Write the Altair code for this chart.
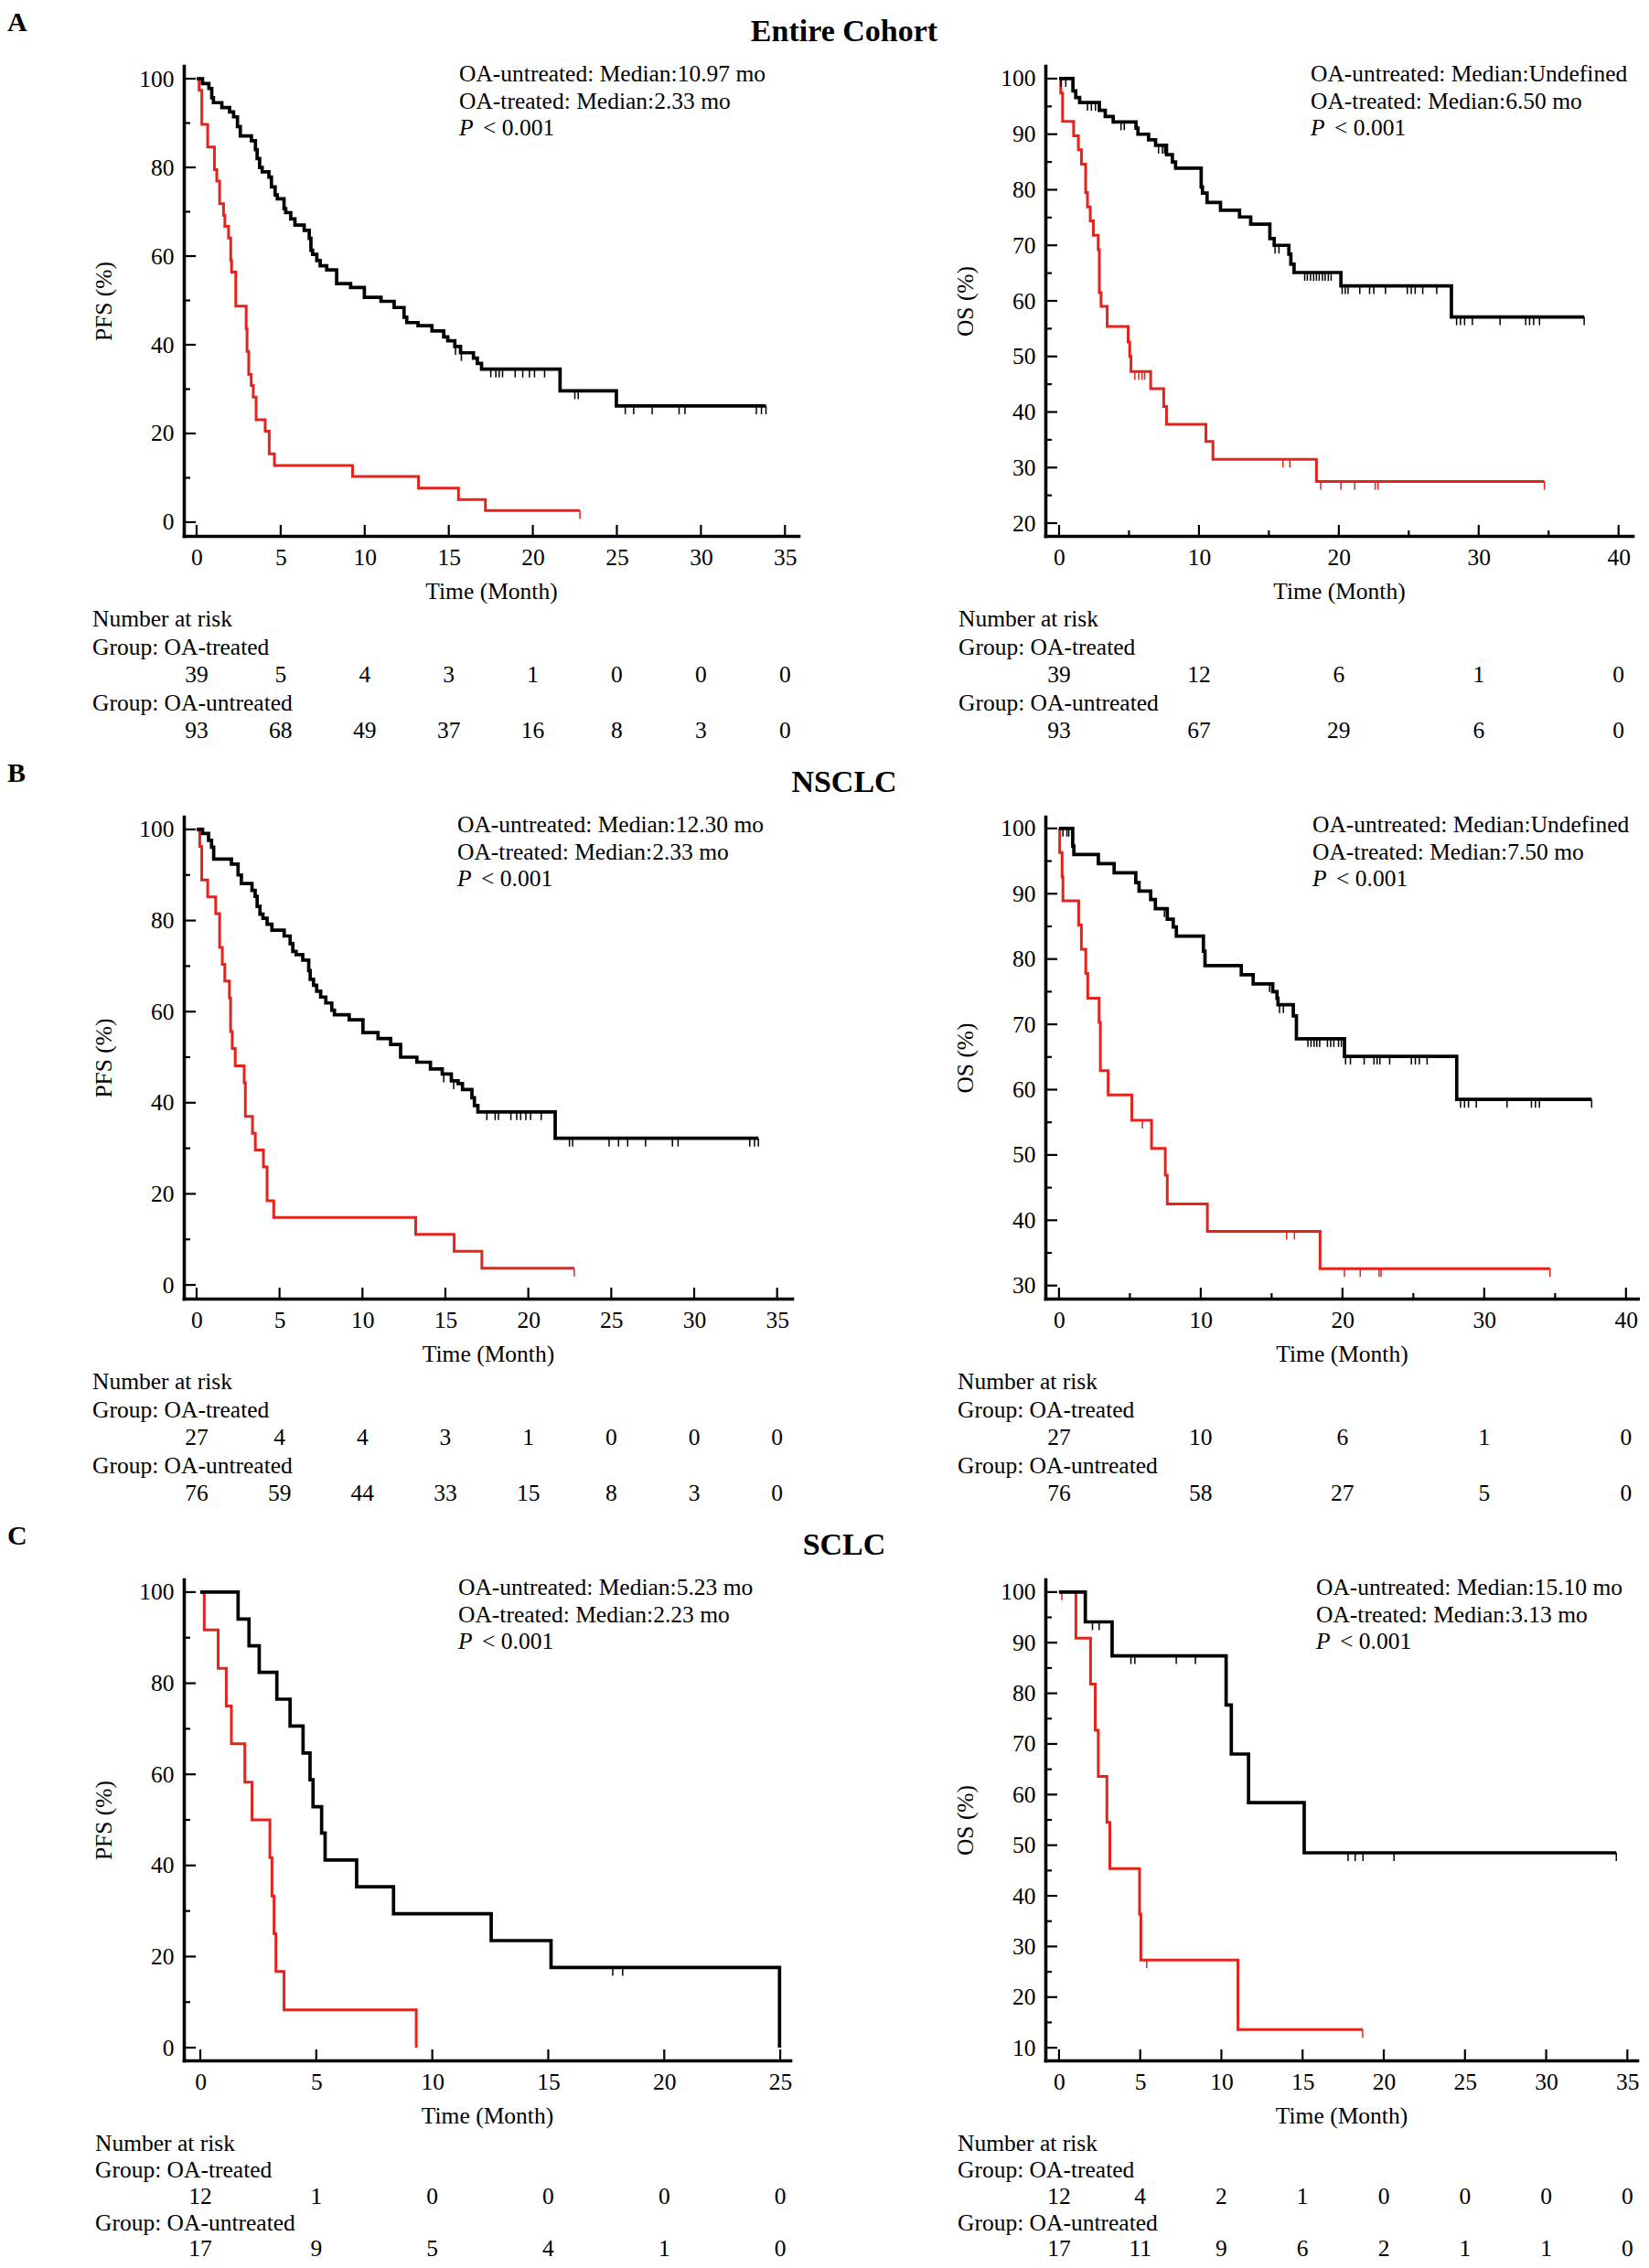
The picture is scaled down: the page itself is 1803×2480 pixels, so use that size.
import altair as alt
import pandas as pd

FONT = "Liberation Serif"
INK = "#000000"
RED = "#e3231c"

# ------------------------------------------------------------------
# Data: (time of drop in months, survival % after drop)
# ------------------------------------------------------------------
# A: Entire cohort - PFS
A_PFS_UNTREATED = [(0.35, 98.9), (0.73, 97.8), (0.9, 95.7), (1.0, 94.6), (1.5, 93.5), (1.96, 92.5),
                   (2.2, 91.4), (2.43, 89.2), (2.6, 87.1), (3.26, 86.0), (3.5, 84.0), (3.6, 82.0),
                   (3.75, 80.0), (3.9, 79.0), (4.3, 77.8), (4.45, 75.6), (4.67, 73.8), (4.8, 72.9),
                   (5.2, 70.7), (5.3, 69.8), (5.6, 68.4), (5.85, 67.0), (6.4, 65.8), (6.7, 64.0),
                   (6.8, 61.3), (6.9, 60.4), (7.15, 59.0), (7.35, 57.8), (7.74, 56.9), (8.33, 53.8),
                   (9.16, 52.9), (9.98, 50.7), (10.97, 49.8), (11.75, 48.4), (12.34, 46.2), (12.5, 45.0),
                   (13.17, 44.3), (14.0, 43.1), (14.7, 41.8), (14.94, 40.9), (15.36, 39.6), (15.7, 38.2),
                   (16.47, 37.0), (16.7, 35.8), (16.95, 34.5), (21.62, 29.6), (24.97, 26.2)]
A_PFS_UNTREATED_END = 33.87
A_PFS_UNTREATED_CENSOR = [15.4, 15.75, 17.5, 17.8, 18.0, 18.2, 18.95, 19.4, 19.8, 20.1, 20.7, 22.5, 22.7,
                          25.5, 26.0, 27.1, 28.7, 29.05, 33.3, 33.6, 33.87]
A_PFS_TREATED = [(0.15, 97.4), (0.31, 89.7), (0.66, 84.6), (1.06, 79.5), (1.2, 76.9), (1.37, 71.8),
                 (1.6, 69.2), (1.68, 66.7), (1.9, 64.1), (2.03, 59.0), (2.08, 56.4), (2.33, 48.7),
                 (2.95, 43.6), (3.0, 38.5), (3.1, 33.3), (3.25, 30.8), (3.37, 28.2), (3.54, 23.1),
                 (4.08, 20.5), (4.32, 15.4), (4.63, 12.8), (9.28, 10.3), (13.2, 7.7), (15.58, 5.1),
                 (17.18, 2.6)]
A_PFS_TREATED_END = 22.8
A_PFS_TREATED_CENSOR = [22.8]

# A: Entire cohort - OS
A_OS_UNTREATED = [(0.99, 97.8), (1.19, 96.6), (1.47, 95.7), (2.88, 94.3), (3.3, 93.2), (3.87, 92.2),
                  (5.5, 91.1), (5.64, 90.0), (6.4, 89.0), (6.9, 88.0), (7.68, 86.3), (8.1, 85.0),
                  (8.33, 83.9), (10.16, 80.5), (10.25, 79.4), (10.58, 77.7), (11.54, 76.3), (12.9, 75.1),
                  (13.7, 73.8), (15.07, 71.2), (15.38, 70.0), (16.43, 68.4), (16.57, 66.6), (16.8, 65.1),
                  (20.15, 62.7), (28.05, 57.1)]
A_OS_UNTREATED_END = 37.54
A_OS_UNTREATED_CENSOR = [0.14, 0.48, 2.03, 2.31, 2.6, 4.43, 4.66, 7.11, 7.39, 7.54, 15.44, 15.72,
                         17.56, 17.75, 17.98, 18.2, 18.4, 18.6, 18.83, 19.02, 19.25, 19.45,
                         20.24, 20.46, 20.66, 21.5, 22.2, 22.5, 23.34, 24.9, 25.18, 25.46, 26.0, 27.0,
                         28.42, 28.7, 28.99, 29.55, 31.53, 33.36, 33.64, 33.93, 34.35, 37.54]
A_OS_TREATED = [(0.12, 97.4), (0.25, 92.3), (1.04, 89.7), (1.38, 87.2), (1.6, 84.6), (1.9, 79.5),
                (2.03, 76.9), (2.23, 74.4), (2.45, 71.8), (2.8, 69.2), (2.88, 61.5), (3.0, 59.0),
                (3.44, 55.4), (4.94, 52.6), (5.05, 50.0), (5.14, 47.3), (6.55, 44.2), (7.48, 41.0),
                (7.68, 37.8), (10.5, 34.7), (11.0, 31.5), (18.4, 27.5)]
A_OS_TREATED_END = 34.7
A_OS_TREATED_CENSOR = [5.42, 5.7, 5.93, 6.12, 16.0, 16.5, 18.7, 20.15, 21.14, 22.6, 22.8, 34.7]

# B: NSCLC - PFS
B_PFS_UNTREATED = [(0.36, 99.1), (0.72, 97.6), (0.9, 96.1), (1.03, 93.5), (2.1, 92.4), (2.5, 90.0),
                   (2.7, 88.1), (3.34, 86.6), (3.53, 85.3), (3.65, 83.1), (3.82, 81.4), (4.0, 80.5),
                   (4.25, 79.2), (4.54, 77.9), (5.28, 76.6), (5.64, 74.9), (5.8, 73.2), (6.0, 72.5),
                   (6.4, 71.3), (6.76, 69.0), (6.85, 67.1), (7.05, 65.8), (7.24, 64.5), (7.48, 63.2),
                   (7.79, 61.9), (8.15, 60.3), (8.31, 59.3), (9.2, 58.2), (10.03, 55.4), (10.94, 54.1),
                   (11.7, 52.8), (12.3, 50.0), (13.28, 48.9), (14.1, 47.4), (14.81, 46.3), (15.36, 44.8),
                   (15.77, 44.2), (16.03, 42.9), (16.6, 41.1), (16.75, 39.4), (16.96, 38.0), (21.62, 32.2)]
B_PFS_UNTREATED_END = 33.87
B_PFS_UNTREATED_CENSOR = [14.9, 15.5, 17.5, 18.0, 18.2, 18.95, 19.3, 19.54, 19.85, 20.14, 20.78,
                          22.48, 22.67, 24.87, 25.44, 25.99, 27.07, 28.69, 29.03, 33.35, 33.64, 33.87]
B_PFS_TREATED = [(0.19, 96.3), (0.31, 88.9), (0.67, 85.2), (1.15, 81.5), (1.39, 74.1), (1.55, 70.4),
                 (1.7, 66.7), (1.98, 63.0), (2.05, 55.6), (2.15, 51.9), (2.33, 48.1), (2.87, 44.4),
                 (2.94, 37.0), (3.37, 33.3), (3.54, 29.6), (4.03, 25.9), (4.25, 18.5), (4.65, 14.8),
                 (13.21, 11.1), (15.53, 7.4), (17.2, 3.7)]
B_PFS_TREATED_END = 22.77
B_PFS_TREATED_CENSOR = [22.77]

# B: NSCLC - OS
B_OS_UNTREATED = [(0.97, 97.3), (1.05, 96.0), (2.78, 94.6), (3.89, 93.2), (5.42, 91.7), (5.65, 90.4),
                  (6.47, 89.1), (6.8, 87.7), (7.64, 86.1), (8.06, 84.9), (8.28, 83.5), (10.19, 81.2),
                  (10.3, 79.0), (12.86, 77.6), (13.7, 76.2), (15.08, 75.0), (15.38, 74.0), (15.45, 73.0),
                  (16.53, 71.3), (16.75, 67.8), (20.14, 65.1), (28.06, 58.5)]
B_OS_UNTREATED_END = 37.58
B_OS_UNTREATED_CENSOR = [0.28, 0.56, 0.69, 2.72, 7.44, 14.86, 15.56, 15.83, 17.56, 17.78, 18.0, 18.19,
                         18.39, 18.94, 19.17, 19.39, 19.72, 19.92, 20.22, 20.56, 21.53, 22.22, 22.44,
                         22.64, 23.33, 24.86, 25.14, 25.42, 25.97, 28.33, 28.61, 28.89, 29.44, 31.61,
                         33.33, 33.61, 33.89, 37.58]
B_OS_TREATED = [(0.05, 96.3), (0.22, 92.6), (0.28, 88.9), (1.39, 85.2), (1.58, 81.5), (1.89, 77.8),
                (2.03, 74.0), (2.83, 70.3), (2.92, 62.9), (3.47, 59.2), (5.14, 55.3), (6.53, 51.0),
                (7.5, 46.9), (7.64, 42.5), (10.47, 38.3), (18.42, 32.6)]
B_OS_TREATED_END = 34.64
B_OS_TREATED_CENSOR = [5.89, 16.06, 16.61, 20.14, 21.25, 22.58, 22.72, 34.64]

# C: SCLC - PFS
C_PFS_UNTREATED = [(1.63, 94.1), (2.1, 88.2), (2.54, 82.4), (3.3, 76.5), (3.87, 70.6), (4.43, 64.7),
                   (4.73, 58.8), (4.86, 52.9), (5.23, 47.1), (5.38, 41.2), (6.74, 35.3), (8.33, 29.4),
                   (12.54, 23.5), (15.12, 17.6), (24.97, 0.0)]
C_PFS_UNTREATED_END = 24.97
C_PFS_UNTREATED_CENSOR = [17.78, 18.21]
C_PFS_TREATED = [(0.17, 91.7), (0.77, 83.3), (1.12, 75.0), (1.34, 66.7), (1.92, 58.3), (2.23, 50.0),
                 (3.0, 41.7), (3.09, 33.3), (3.18, 25.0), (3.26, 16.7), (3.61, 8.3), (9.31, 0.0)]
C_PFS_TREATED_END = 9.31
C_PFS_TREATED_CENSOR = []

# C: SCLC - OS
C_OS_UNTREATED = [(1.62, 94.1), (3.27, 87.4), (10.29, 77.7), (10.61, 68.0), (11.67, 58.4), (15.1, 48.5)]
C_OS_UNTREATED_END = 34.32
C_OS_UNTREATED_CENSOR = [2.06, 2.47, 4.43, 4.67, 7.22, 8.4, 17.8, 18.24, 18.72, 20.63, 34.32]
C_OS_TREATED = [(1.04, 90.9), (1.94, 81.8), (2.23, 72.7), (2.42, 63.6), (2.95, 54.5), (3.13, 45.4),
                (4.96, 36.4), (5.04, 27.3), (11.02, 13.6)]
C_OS_TREATED_END = 18.7
C_OS_TREATED_CENSOR = [0.17, 5.4, 18.7]

# Number-at-risk tables
RISK_T_PFS_A = [0, 5, 10, 15, 20, 25, 30, 35]
RISK_A_PFS_TREATED = [39, 5, 4, 3, 1, 0, 0, 0]
RISK_A_PFS_UNTREATED = [93, 68, 49, 37, 16, 8, 3, 0]
RISK_T_OS_AB = [0, 10, 20, 30, 40]
RISK_A_OS_TREATED = [39, 12, 6, 1, 0]
RISK_A_OS_UNTREATED = [93, 67, 29, 6, 0]
RISK_B_PFS_TREATED = [27, 4, 4, 3, 1, 0, 0, 0]
RISK_B_PFS_UNTREATED = [76, 59, 44, 33, 15, 8, 3, 0]
RISK_B_OS_TREATED = [27, 10, 6, 1, 0]
RISK_B_OS_UNTREATED = [76, 58, 27, 5, 0]
RISK_T_PFS_C = [0, 5, 10, 15, 20, 25]
RISK_C_PFS_TREATED = [12, 1, 0, 0, 0, 0]
RISK_C_PFS_UNTREATED = [17, 9, 5, 4, 1, 0]
RISK_T_OS_C = [0, 5, 10, 15, 20, 25, 30, 35]
RISK_C_OS_TREATED = [12, 4, 2, 1, 0, 0, 0, 0]
RISK_C_OS_UNTREATED = [17, 11, 9, 6, 2, 1, 1, 0]

# Median annotations
MEDIAN_TEXT = {
    "A_PFS": ["OA-untreated: Median:10.97 mo", "OA-treated: Median:2.33 mo"],
    "A_OS": ["OA-untreated: Median:Undefined", "OA-treated: Median:6.50 mo"],
    "B_PFS": ["OA-untreated: Median:12.30 mo", "OA-treated: Median:2.33 mo"],
    "B_OS": ["OA-untreated: Median:Undefined", "OA-treated: Median:7.50 mo"],
    "C_PFS": ["OA-untreated: Median:5.23 mo", "OA-treated: Median:2.23 mo"],
    "C_OS": ["OA-untreated: Median:15.10 mo", "OA-treated: Median:3.13 mo"],
}
SECTION_LETTERS = ["A", "B", "C"]
SECTION_TITLES = ["Entire Cohort", "NSCLC", "SCLC"]

# axis tick values
PFS_X_TICKS = [0, 5, 10, 15, 20, 25, 30, 35]
OS_X_TICKS = [0, 10, 20, 30, 40]
OS_X_MINOR = [5, 15, 25, 35]
C_PFS_X_TICKS = [0, 5, 10, 15, 20, 25]
C_OS_X_TICKS = [0, 5, 10, 15, 20, 25, 30, 35]
PFS_Y_TICKS = [0, 20, 40, 60, 80, 100]
PFS_Y_MINOR = [10, 30, 50, 70, 90]


# ------------------------------------------------------------------
def step_df(drops, end):
    rows = [(0.0, 100.0)] + list(drops)
    if end > rows[-1][0]:
        rows.append((end, rows[-1][1]))
    return pd.DataFrame(rows, columns=["t", "s"])


def censor_df(drops, censors):
    out = []
    for c in censors:
        s = 100.0
        for t, v in drops:
            if t <= c:
                s = v
        out.append((c, s))
    return pd.DataFrame(out, columns=["t", "s"])


ONE = pd.DataFrame({"k": [0]})


def txt(text, x, y, size=25.5, align="left", baseline="middle", weight="normal", style="normal"):
    return alt.Chart(ONE).mark_text(
        text=text, font=FONT, fontSize=size, fontWeight=weight, fontStyle=style,
        align=align, baseline=baseline, color=INK
    ).encode(x=alt.value(x), y=alt.value(y))


def panel(cfg):
    W, H = cfg["w"], cfg["h"]
    xs = alt.Scale(domain=cfg["xdom"], nice=False, zero=False)
    ys = alt.Scale(domain=cfg["ydom"], nice=False, zero=False)
    common = dict(ticks=False, tickSize=0, grid=False, domainColor=INK, domainWidth=3.6,
                  domainCap="square", labelFont=FONT, labelFontSize=25.5, labelColor=INK,
                  labelFlush=False, labelOverlap=False, labelBound=False, format="d",
                  titleFont=FONT, titleFontSize=25.5, titleFontWeight="normal", titleColor=INK)
    xaxis = alt.Axis(values=cfg["xticks"], title="Time (Month)", labelPadding=11, titlePadding=12, **common)
    yaxis = alt.Axis(values=cfg["yticks"], title=cfg["ytitle"], labelPadding=11, titlePadding=25, **common)
    X = alt.X("t:Q", scale=xs, axis=xaxis)
    Y = alt.Y("s:Q", scale=ys, axis=yaxis)

    layers = []
    # curves: treated (red) under untreated (black)
    layers.append(alt.Chart(step_df(cfg["tr"], cfg["tr_end"])).mark_line(
        interpolate="step-after", color=RED, strokeWidth=3.0).encode(x=X, y=Y))
    if cfg["tr_c"]:
        layers.append(alt.Chart(censor_df(cfg["tr"], cfg["tr_c"])).mark_point(
            shape="M0,0L0,2", size=81, filled=False, strokeWidth=1.5, color=RED, opacity=1
        ).encode(x=X, y=Y))
    layers.append(alt.Chart(step_df(cfg["un"], cfg["un_end"])).mark_line(
        interpolate="step-after", color=INK, strokeWidth=3.7).encode(x=X, y=Y))
    if cfg["un_c"]:
        layers.append(alt.Chart(censor_df(cfg["un"], cfg["un_c"])).mark_point(
            shape="M0,0L0,2", size=81, filled=False, strokeWidth=1.5, color=INK, opacity=1
        ).encode(x=X, y=Y))

    # inward ticks
    layers.append(alt.Chart(pd.DataFrame({"t": cfg["xticks"]})).mark_rule(color=INK, strokeWidth=2.2).encode(
        x=X, y=alt.value(H), y2=alt.value(H - 12)))
    if cfg["xminor"]:
        layers.append(alt.Chart(pd.DataFrame({"t": cfg["xminor"]})).mark_rule(color=INK, strokeWidth=2.2).encode(
            x=X, y=alt.value(H), y2=alt.value(H - 6)))
    layers.append(alt.Chart(pd.DataFrame({"s": cfg["yticks"]})).mark_rule(color=INK, strokeWidth=2.2).encode(
        y=Y, x=alt.value(0), x2=alt.value(13)))
    layers.append(alt.Chart(pd.DataFrame({"s": cfg["yminor"]})).mark_rule(color=INK, strokeWidth=2.2).encode(
        y=Y, x=alt.value(0), x2=alt.value(7)))

    # median annotation
    ax = cfg["ann_x"]
    layers.append(txt(cfg["median"][0], ax, 9))
    layers.append(txt(cfg["median"][1], ax, 38.5))
    layers.append(txt("P", ax, 68, style="italic"))
    layers.append(txt("< 0.001", ax + 26, 68))

    # number at risk
    ro = cfg["risk_off"]
    lx = cfg["risk_x"]
    layers.append(txt("Number at risk", lx, H + ro[0]))
    layers.append(txt("Group: OA-treated", lx, H + ro[1]))
    layers.append(txt("Group: OA-untreated", lx, H + ro[3]))
    layers.append(alt.Chart(pd.DataFrame({"t": cfg["risk_t"], "n": cfg["risk_tr"]})).mark_text(
        font=FONT, fontSize=25.5, color=INK, align="center", baseline="middle").encode(
        x=X, y=alt.value(H + ro[2]), text=alt.Text("n:Q", format="d")))
    layers.append(alt.Chart(pd.DataFrame({"t": cfg["risk_t"], "n": cfg["risk_un"]})).mark_text(
        font=FONT, fontSize=25.5, color=INK, align="center", baseline="middle").encode(
        x=X, y=alt.value(H + ro[4]), text=alt.Text("n:Q", format="d")))

    if cfg.get("letter"):
        layers.append(txt(cfg["letter"], -193, -38, size=30, weight="bold", baseline="alphabetic"))
        layers.append(txt(cfg["title"], 722, -27, size=34, weight="bold", align="center", baseline="alphabetic"))
    if cfg.get("anchor"):
        layers.append(alt.Chart(ONE).mark_rule(strokeOpacity=0, opacity=0).encode(
            x=alt.value(-193), x2=alt.value(-192), y=alt.value(-64), y2=alt.value(-63)))

    return alt.layer(*layers).properties(width=W, height=H)


RISK_OFF_AB = [91, 121.5, 152, 182.5, 213]
RISK_OFF_C = [91, 120, 149, 178, 206]

panels_cfg = [
    dict(w=672, h=514, xdom=[-0.76, 35.8], ydom=[-3.1, 102.9], xticks=PFS_X_TICKS, xminor=[],
         yticks=PFS_Y_TICKS, yminor=PFS_Y_MINOR, ytitle="PFS (%)",
         un=A_PFS_UNTREATED, un_end=A_PFS_UNTREATED_END, un_c=A_PFS_UNTREATED_CENSOR,
         tr=A_PFS_TREATED, tr_end=A_PFS_TREATED_END, tr_c=A_PFS_TREATED_CENSOR,
         median=MEDIAN_TEXT["A_PFS"], ann_x=301, risk_off=RISK_OFF_AB, risk_x=-100,
         risk_t=RISK_T_PFS_A, risk_tr=RISK_A_PFS_TREATED, risk_un=RISK_A_PFS_UNTREATED,
         letter=SECTION_LETTERS[0], title=SECTION_TITLES[0], anchor=True),
    dict(w=642, h=514, xdom=[-0.98, 41.0], ydom=[17.7, 102.3], xticks=OS_X_TICKS, xminor=OS_X_MINOR,
         yticks=[20, 30, 40, 50, 60, 70, 80, 90, 100], yminor=[25, 35, 45, 55, 65, 75, 85, 95], ytitle="OS (%)",
         un=A_OS_UNTREATED, un_end=A_OS_UNTREATED_END, un_c=A_OS_UNTREATED_CENSOR,
         tr=A_OS_TREATED, tr_end=A_OS_TREATED_END, tr_c=A_OS_TREATED_CENSOR,
         median=MEDIAN_TEXT["A_OS"], ann_x=290, risk_off=RISK_OFF_AB, risk_x=-95,
         risk_t=RISK_T_OS_AB, risk_tr=RISK_A_OS_TREATED, risk_un=RISK_A_OS_UNTREATED),
    dict(w=665, h=527, xdom=[-0.77, 35.9], ydom=[-3.0, 102.8], xticks=PFS_X_TICKS, xminor=[],
         yticks=PFS_Y_TICKS, yminor=PFS_Y_MINOR, ytitle="PFS (%)",
         un=B_PFS_UNTREATED, un_end=B_PFS_UNTREATED_END, un_c=B_PFS_UNTREATED_CENSOR,
         tr=B_PFS_TREATED, tr_end=B_PFS_TREATED_END, tr_c=B_PFS_TREATED_CENSOR,
         median=MEDIAN_TEXT["B_PFS"], ann_x=299, risk_off=RISK_OFF_AB, risk_x=-100,
         risk_t=RISK_T_PFS_A, risk_tr=RISK_B_PFS_TREATED, risk_un=RISK_B_PFS_UNTREATED,
         letter=SECTION_LETTERS[1], title=SECTION_TITLES[1]),
    dict(w=648, h=527, xdom=[-0.96, 40.85], ydom=[28.0, 101.8], xticks=OS_X_TICKS, xminor=OS_X_MINOR,
         yticks=[30, 40, 50, 60, 70, 80, 90, 100], yminor=[35, 45, 55, 65, 75, 85, 95], ytitle="OS (%)",
         un=B_OS_UNTREATED, un_end=B_OS_UNTREATED_END, un_c=B_OS_UNTREATED_CENSOR,
         tr=B_OS_TREATED, tr_end=B_OS_TREATED_END, tr_c=B_OS_TREATED_CENSOR,
         median=MEDIAN_TEXT["B_OS"], ann_x=292, risk_off=RISK_OFF_AB, risk_x=-96,
         risk_t=RISK_T_OS_AB, risk_tr=RISK_B_OS_TREATED, risk_un=RISK_B_OS_UNTREATED),
    dict(w=663, h=526, xdom=[-0.71, 25.43], ydom=[-2.8, 102.8], xticks=C_PFS_X_TICKS, xminor=[],
         yticks=PFS_Y_TICKS, yminor=PFS_Y_MINOR, ytitle="PFS (%)",
         un=C_PFS_UNTREATED, un_end=C_PFS_UNTREATED_END, un_c=C_PFS_UNTREATED_CENSOR,
         tr=C_PFS_TREATED, tr_end=C_PFS_TREATED_END, tr_c=C_PFS_TREATED_CENSOR,
         median=MEDIAN_TEXT["C_PFS"], ann_x=300, risk_off=RISK_OFF_C, risk_x=-97,
         risk_t=RISK_T_PFS_C, risk_tr=RISK_C_PFS_TREATED, risk_un=RISK_C_PFS_UNTREATED,
         letter=SECTION_LETTERS[2], title=SECTION_TITLES[2]),
    dict(w=647, h=526, xdom=[-0.84, 35.6], ydom=[7.5, 102.5], xticks=C_OS_X_TICKS, xminor=[],
         yticks=[10, 20, 30, 40, 50, 60, 70, 80, 90, 100], yminor=[15, 25, 35, 45, 55, 65, 75, 85, 95],
         ytitle="OS (%)",
         un=C_OS_UNTREATED, un_end=C_OS_UNTREATED_END, un_c=C_OS_UNTREATED_CENSOR,
         tr=C_OS_TREATED, tr_end=C_OS_TREATED_END, tr_c=C_OS_TREATED_CENSOR,
         median=MEDIAN_TEXT["C_OS"], ann_x=296, risk_off=RISK_OFF_C, risk_x=-96,
         risk_t=RISK_T_OS_C, risk_tr=RISK_C_OS_TREATED, risk_un=RISK_C_OS_UNTREATED),
]

charts = [panel(c) for c in panels_cfg]

chart = alt.concat(
    *charts, columns=2, spacing={"row": 307, "column": 270}, bounds="flush", align="each"
).properties(padding=0, background="white").configure_view(strokeWidth=0)

chart.save("out.html", embed_options={"renderer": "svg", "actions": False})
